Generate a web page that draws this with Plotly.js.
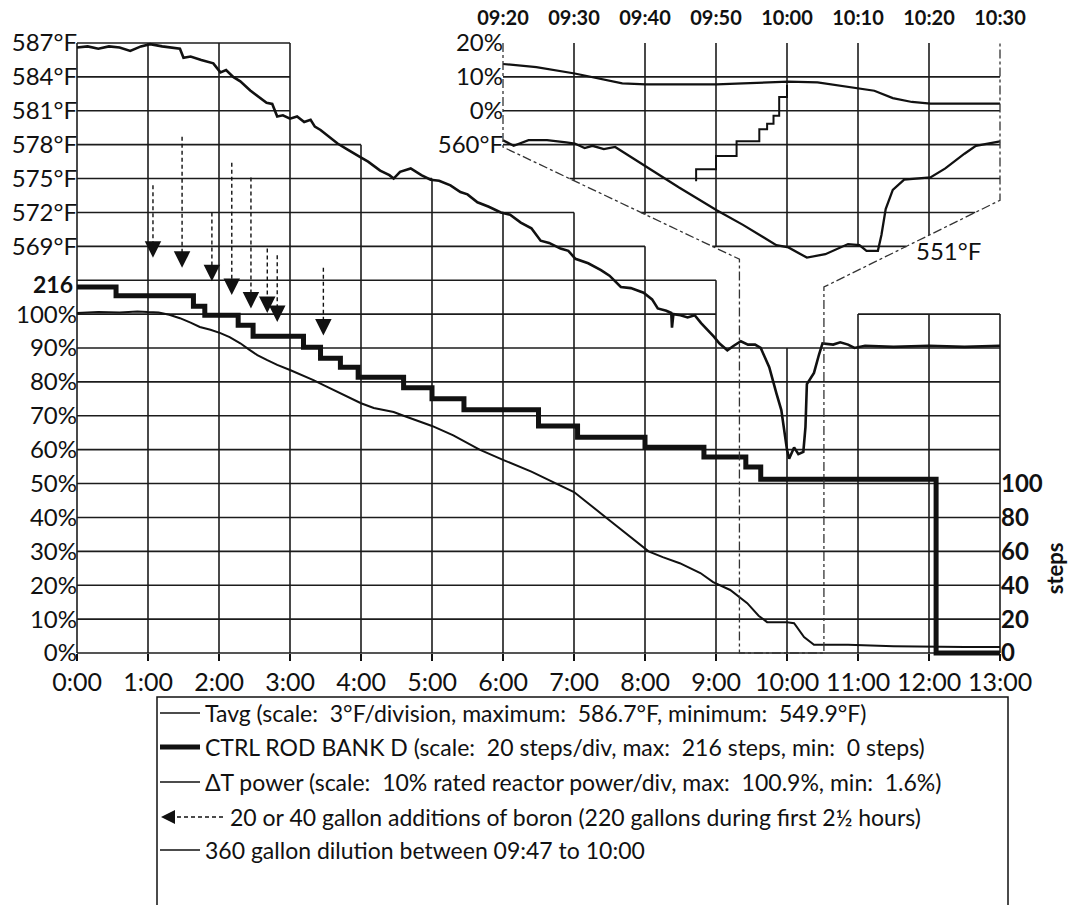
<!DOCTYPE html>
<html><head><meta charset="utf-8">
<script src="https://cdn.plot.ly/plotly-3.0.1.min.js"></script>
<style>html,body{margin:0;padding:0;background:#fff;}#chart{width:1068px;height:905px;}</style>
</head><body><div id="chart"></div>
<script>
// ---------------- data ----------------
const hourTicks  = [0,1,2,3,4,5,6,7,8,9,10,11,12,13];
const hourLabels = ['0:00','1:00','2:00','3:00','4:00','5:00','6:00','7:00','8:00','9:00','10:00','11:00','12:00','13:00'];

const powerTicks  = [0,10,20,30,40,50,60,70,80,90,100];
const powerLabels = ['0%','10%','20%','30%','40%','50%','60%','70%','80%','90%','100%'];
const tempLeftTicks  = [569,572,575,578,581,584,587];
const tempLeftLabels = ['569°F','572°F','575°F','578°F','581°F','584°F','587°F'];
const tempRightTicks  = [551,554,557,560];
const tempRightLabels = ['551°F','554°F','557°F','560°F'];
const stepTicks  = [0,20,40,60,80,100];
const stepLabels = ['0','20','40','60','80','100'];
const stepMaxTick = 216;
const stepMaxLabel = '216';

// Tavg, main trace (hours, °F)
const tavgHours = [0,0.15,0.3,0.45,0.6,0.75,0.9,1.03,1.2,1.45,1.5,1.6,1.75,1.92,2.02,2.1,2.2,2.3,2.44,2.55,2.67,2.75,2.82,2.9,3.0,3.1,3.2,3.29,3.35,3.43,3.55,3.67,3.8,3.9,3.99,4.1,4.27,4.4,4.46,4.55,4.7,4.85,4.98,5.1,5.26,5.4,5.5,5.64,5.8,5.97,6.1,6.25,6.4,6.53,6.65,6.81,6.92,7.02,7.2,7.38,7.5,7.66,7.8,7.98,8.1,8.18,8.3,8.37,8.38,8.4,8.5,8.6,8.7,8.79,8.9,8.97,9.05,9.16,9.25,9.35,9.45,9.55,9.63,9.75,9.85,9.92,10.0,10.03,10.1,10.16,10.23,10.26,10.28,10.38,10.45,10.5,10.65,10.75,10.86,10.95,11.1,11.5,12.0,12.5,13.0];
const tavgDegF  = [586.6,586.7,586.5,586.7,586.6,586.3,586.7,586.9,586.7,586.5,585.7,585.8,585.5,585.2,584.4,584.6,584.0,583.6,582.8,582.3,581.7,581.6,580.5,580.6,580.3,580.5,580.0,580.2,579.6,579.3,578.7,578.1,577.6,577.2,576.9,576.5,575.7,575.3,575.0,575.6,575.9,575.3,574.9,574.8,574.4,573.8,573.6,572.9,572.5,572.0,571.8,571.1,570.6,569.5,569.3,568.8,568.6,567.9,567.5,566.9,566.4,565.4,565.3,564.9,564.3,563.5,563.3,563.1,561.8,563.0,562.9,562.7,562.9,562.2,561.5,561.0,560.4,559.8,560.2,560.6,560.3,560.3,560.0,558.3,556.0,554.5,551.0,550.2,551.2,550.6,550.8,553.0,556.8,557.8,559.4,560.4,560.3,560.5,560.3,560.0,560.2,560.1,560.2,560.1,560.2];

// Delta-T power, main trace (hours, %)
const powerHours = [0,0.3,0.6,0.85,1.0,1.15,1.3,1.45,1.6,1.73,1.88,2.02,2.15,2.3,2.42,2.54,2.68,2.82,3.0,3.15,3.33,3.48,3.62,3.8,4.0,4.18,4.46,4.6,4.8,5.0,5.3,5.67,6.0,6.4,6.75,7.0,7.45,7.75,8.05,8.25,8.49,8.78,8.96,9.2,9.44,9.6,9.72,10.0,10.1,10.24,10.38,10.86,11.5,12.5,13.0];
const powerPct   = [100.3,100.6,100.5,100.8,100.6,100.5,99.8,98.8,97.5,96.2,95.4,94.4,93.2,91.4,89.6,87.9,86.4,85.0,83.5,82.2,80.5,79.0,77.6,75.6,73.7,72.3,71.1,70.0,68.4,67.0,64.2,60.0,57.0,53.5,50.0,47.5,40.0,35.0,30.0,28.3,26.5,23.6,20.9,18.6,14.7,11.0,9.1,9.1,8.8,4.7,2.4,2.4,2.0,1.8,1.8];

// Control rod bank D (hours, steps), step changes
const rodHours = [0,0.55,1.64,1.8,2.27,2.48,3.19,3.43,3.71,3.96,4.6,5.0,5.45,6.5,7.05,8.0,8.83,9.42,9.63,12.1,13.0];
const rodSteps = [216,210.8,204.7,199.4,193.5,187,180.5,174,168.7,162.8,156.5,150,143.5,134,127.4,121.5,115.6,109.7,102.5,0,0];

// Boron additions (hours, arrow top °F, arrow tip °F)
const boronHours   = [1.07,1.48,1.9,2.18,2.45,2.68,2.82,3.47];
const boronTopDegF = [574.4,578.7,572.0,576.4,575.1,568.8,568.2,567.1];
const boronTipDegF = [568.0,567.1,565.9,564.7,563.5,563.1,562.3,561.1];

// Inset (minutes after 09:00)
const insetTickMin    = [20,30,40,50,60,70,80,90];
const insetTickLabels = ['09:20','09:30','09:40','09:50','10:00','10:10','10:20','10:30'];
const insetPowerTicks  = [0,10,20];
const insetPowerLabels = ['0%','10%','20%'];
const insetTempLeftTicks  = [560];
const insetTempLeftLabels = ['560°F'];
const insetTempRightTicks  = [554,557,560];
const insetTempRightLabels = ['554°F','557°F','560°F'];
const insetInnerLabel = '551°F';

const insetTavgMin  = [20,21.5,23.6,26.2,28.9,30.1,31.5,32.6,34.2,35.8,36.8,40,44.8,50.1,53.8,58.5,60.2,62.8,65.4,68.6,70.2,71.2,72.8,73.3,73.9,74.9,76.5,80.2,82.3,85,86.6,90];
const insetTavgDegF = [560.4,559.9,560.4,560.4,560.2,560.1,559.7,559.9,559.6,559.8,559.4,558.1,556.2,554.2,552.9,551.1,550.9,550.0,550.3,551.2,551.1,550.6,550.6,552.0,554.3,556.0,556.9,557.1,557.9,559.2,559.9,560.3];
const insetPowerMin = [20,24.7,30.1,33.7,36.8,40.1,50.1,53.8,60.2,64.3,70.2,72.3,74.9,77.6,80.2,90];
const insetPowerPct = [13.8,12.9,11.0,9.5,8.1,7.8,7.8,8.1,8.6,8.4,6.6,5.9,3.75,2.6,2.1,2.1];
const dilutionMin     = [47.2,47.2,50.0,52.9,56.1,57.2,58.1,58.9,60.0];
const dilutionGallons = [0,45,95,150,195,215,245,315,360];

const legendTexts = [
  'Tavg (scale:&nbsp; 3°F/division, maximum:&nbsp; 586.7°F, minimum:&nbsp; 549.9°F)',
  'CTRL ROD BANK D (scale:&nbsp; 20 steps/div, max:&nbsp; 216 steps, min:&nbsp; 0 steps)',
  'ΔT power (scale:&nbsp; 10% rated reactor power/div, max:&nbsp; 100.9%, min:&nbsp; 1.6%)',
  '20 or 40 gallon additions of boron (220 gallons during first 2½ hours)',
  '360 gallon dilution between 09:47 to 10:00'
];
const stepsTitle = 'steps';

// ---------------- geometry ----------------
const W = 1068, H = 905;
const G = {left:77, right:1000, base:653, top:43, pad:10};
const hourPx = (G.right - G.left) / 13;
const divPx  = (G.base - G.top) / 18;
const mL = G.left - G.pad, mR = W - (G.right + G.pad), mT = G.top - G.pad, mB = H - (G.base + G.pad);
const plotW = W - mL - mR, plotH = H - mT - mB;
const hMin = -G.pad / hourPx, hMax = 13 + G.pad / hourPx;
const kMin = -G.pad / divPx,  kMax = 18 + G.pad / divPx;
const rng = (v0, per) => [v0 + kMin * per, v0 + kMax * per];
const xP = px => (px - mL) / plotW;
const yP = py => (H - mB - py) / plotH;
const toInsetMin = h => 20 + (h - 6) * 10;

const FONT = 'Lato, "Open Sans", sans-serif';
const INK = '#111';
const tick = {family: FONT, size: 24, color: INK};
const tickBold = {...tick, weight: 'bold'};
const base = {showgrid:false, zeroline:false, showline:false, ticks:'', fixedrange:true, tickmode:'array'};

// ---------------- grid ----------------
const shapes = [];
const gridLine = {color:'#1c1c1c', width:1.6};
const seg = (x0, k0, x1, k1, line) => shapes.push({type:'line', xref:'x', yref:'y', x0, x1, y0:k0*10, y1:k1*10, line, layer:'below'});
const colTop = [18,18,18,15,14,13,13,12,11,9,9,10,10];
for (let k = 0; k <= 18; k++) {
  let s = null;
  for (let c = 0; c <= 13; c++) {
    const on = c < 13 && colTop[c] >= k;
    if (on && s === null) s = c;
    if (!on && s !== null) { seg(s, k, c, k, gridLine); s = null; }
  }
}
for (let h = 0; h <= 13; h++) {
  const top = Math.max(h > 0 ? colTop[h-1] : 0, h < 13 ? colTop[h] : 0);
  seg(h, 0, h, top, gridLine);
}
// inset window
const LD = {h0:6, k0:14.93, h1:9.33, k1:11.62};
const RD = {h0:13, k0:13.36, h1:10.52, k1:10.8};
const leftH  = k => k >= LD.k0 ? LD.h0 : LD.h0 + (LD.k0 - k) / (LD.k0 - LD.k1) * (LD.h1 - LD.h0);
const rightH = k => k >= RD.k0 ? RD.h0 : RD.h0 - (RD.k0 - k) / (RD.k0 - RD.k1) * (RD.h0 - RD.h1);
const leftK  = h => LD.k0 - (h - LD.h0) / (LD.h1 - LD.h0) * (LD.k0 - LD.k1);
const rightK = h => RD.k1 + (h - RD.h1) / (RD.h0 - RD.h1) * (RD.k0 - RD.k1);
for (let k = 12; k <= 17; k++) seg(leftH(k), k, rightH(k), k, gridLine);
for (let h = 7; h <= 12; h++) {
  let b = 12;
  if (h <= LD.h1) b = Math.max(b, leftK(h));
  if (h >= RD.h1) b = Math.max(b, rightK(h));
  seg(h, b, h, 18, gridLine);
}
const border = [[LD.h0,18],[LD.h0,LD.k0],[LD.h1,LD.k1],[LD.h1,0],[RD.h1,0],[RD.h1,RD.k1],[RD.h0,RD.k0],[RD.h0,18]];
shapes.push({type:'path', xref:'x', yref:'y', layer:'above',
  path: border.map((p,i) => (i ? 'L' : 'M') + p[0] + ',' + (p[1]*10)).join(' '),
  line:{color:'#333', width:1.3, dash:'dashdot'}});

// ---------------- legend (drawn) ----------------
const legRows = [713, 747, 782, 817, 850];
const annotations = [];
shapes.push({type:'rect', xref:'paper', yref:'paper', x0:xP(157), x1:xP(1008), y0:yP(697), y1:yP(930), line:{color:INK, width:1.5}});
const legLine = (i, w, dash, x0 = 160, x1 = 200) => shapes.push({type:'line', xref:'paper', yref:'paper', x0:xP(x0), x1:xP(x1), y0:yP(legRows[i]), y1:yP(legRows[i]), line:{color:INK, width:w, dash}});
legLine(0, 1.6, 'solid'); legLine(1, 5, 'solid'); legLine(2, 1.6, 'solid'); legLine(3, 1.3, '4px,3px', 170, 226); legLine(4, 1.6, 'solid');
annotations.push({xref:'paper', yref:'paper', x:xP(161), y:yP(legRows[3]), ax:12, ay:0, text:'', showarrow:true, arrowhead:2, arrowsize:2, arrowwidth:1.4, arrowcolor:INK, standoff:0});
legendTexts.forEach((t, i) => annotations.push({xref:'paper', yref:'paper', x:xP(i === 3 ? 228 : 203), y:yP(legRows[i]), xanchor:'left', yanchor:'middle', showarrow:false, text:t, font:{family:FONT, size:23, color:INK}}));
// inset label inside window
annotations.push({xref:'paper', yref:'paper', x:xP(914), y:yP(250), xanchor:'left', yanchor:'middle', showarrow:false, text:insetInnerLabel, font:tick});
// 216-step label on the left, on the steps scale
annotations.push({xref:'paper', yref:'y4', x:xP(G.left - 2), y:stepMaxTick, yshift:3, xanchor:'right', yanchor:'middle', showarrow:false, text:stepMaxLabel, font:{...tickBold, size:23}});
// steps title, right side
annotations.push({xref:'paper', yref:'y4', x:xP(1054), y:50, xanchor:'center', yanchor:'middle', showarrow:false, textangle:-90, text:stepsTitle, font:{...tickBold, size:22}});
// boron arrow heads
boronHours.forEach((h, i) => annotations.push({xref:'x', yref:'y2', x:h, y:boronTipDegF[i], ax:0, ay:-16, text:'', showarrow:true, arrowhead:2, arrowsize:2.2, arrowwidth:1.5, arrowcolor:INK, standoff:0}));

// ---------------- traces ----------------
const bx = [], by = [];
boronHours.forEach((h, i) => { bx.push(h, h, null); by.push(boronTopDegF[i], boronTipDegF[i] + 0.8, null); });
const traces = [
  {x:powerHours, y:powerPct, yaxis:'y', mode:'lines', line:{color:INK, width:2}, name:'ΔT power'},
  {x:tavgHours, y:tavgDegF, yaxis:'y2', mode:'lines', line:{color:INK, width:2.6}, name:'Tavg'},
  {x:rodHours, y:rodSteps, yaxis:'y4', mode:'lines', line:{color:INK, width:5, shape:'hv'}, name:'CTRL ROD BANK D'},
  {x:bx, y:by, yaxis:'y2', mode:'lines', line:{color:INK, width:1.4, dash:'4px,3px'}, name:'boron additions'},
  {x:insetTavgMin, y:insetTavgDegF, xaxis:'x2', yaxis:'y7', mode:'lines', line:{color:INK, width:2.3}, name:'Tavg (inset)'},
  {x:insetPowerMin, y:insetPowerPct, xaxis:'x2', yaxis:'y6', mode:'lines', line:{color:INK, width:2.2}, name:'ΔT power (inset)'},
  {x:dilutionMin, y:dilutionGallons, xaxis:'x2', yaxis:'y10', mode:'lines', line:{color:INK, width:2, shape:'hv'}, name:'dilution'}
];

const insetLeftPos = xP(G.left + 6 * hourPx);
const layout = {
  width:W, height:H, margin:{l:mL, r:mR, t:mT, b:mB}, showlegend:false,
  paper_bgcolor:'#fff', plot_bgcolor:'rgba(0,0,0,0)', font:{family:FONT, color:INK},
  xaxis:{...base, range:[hMin,hMax], tickvals:hourTicks, ticktext:hourLabels, ticks:'outside', ticklen:7, tickwidth:1.5, tickcolor:INK, anchor:'free', position:yP(G.base), tickfont:{...tick, size:25}},
  xaxis2:{...base, overlaying:'x', side:'top', anchor:'free', position:yP(G.top), range:[toInsetMin(hMin), toInsetMin(hMax)], tickvals:insetTickMin, ticktext:insetTickLabels, ticklabelstandoff:14, tickfont:{family:FONT, size:20, color:INK, weight:'bold'}},
  yaxis:{...base, range:rng(0,10), tickvals:powerTicks, ticktext:powerLabels, anchor:'free', position:xP(G.left), tickfont:tick},
  yaxis2:{...base, overlaying:'y', side:'left', anchor:'free', position:xP(G.left), range:rng(533,3), tickvals:tempLeftTicks, ticktext:tempLeftLabels, tickfont:tick},
  yaxis3:{...base, overlaying:'y', side:'right', anchor:'free', position:xP(G.right), range:rng(533,3), tickvals:tempRightTicks, ticktext:tempRightLabels, tickfont:tick},
  yaxis4:{...base, overlaying:'y', side:'right', anchor:'free', position:xP(G.right), range:rng(0,20), tickvals:stepTicks, ticktext:stepLabels, tickfont:tickBold},
  yaxis6:{...base, overlaying:'y', side:'left', anchor:'free', position:insetLeftPos, range:rng(-160,10), tickvals:insetPowerTicks, ticktext:insetPowerLabels, tickfont:tick},
  yaxis7:{...base, overlaying:'y', side:'left', anchor:'free', position:insetLeftPos, range:rng(515,3), tickvals:insetTempLeftTicks, ticktext:insetTempLeftLabels, tickfont:tick},
  yaxis8:{...base, overlaying:'y', side:'right', anchor:'free', position:xP(G.right), range:rng(-160,10), tickvals:insetPowerTicks, ticktext:insetPowerLabels, tickfont:tick},
  yaxis9:{...base, overlaying:'y', side:'right', anchor:'free', position:xP(G.right), range:rng(515,3), tickvals:insetTempRightTicks, ticktext:insetTempRightLabels, tickfont:tick},
  yaxis10:{...base, overlaying:'y', visible:false, range:rng(-13.92*126.8, 126.8)},
  shapes, annotations
};
Plotly.newPlot('chart', traces, layout, {displayModeBar:false, staticPlot:true});
</script></body></html>
